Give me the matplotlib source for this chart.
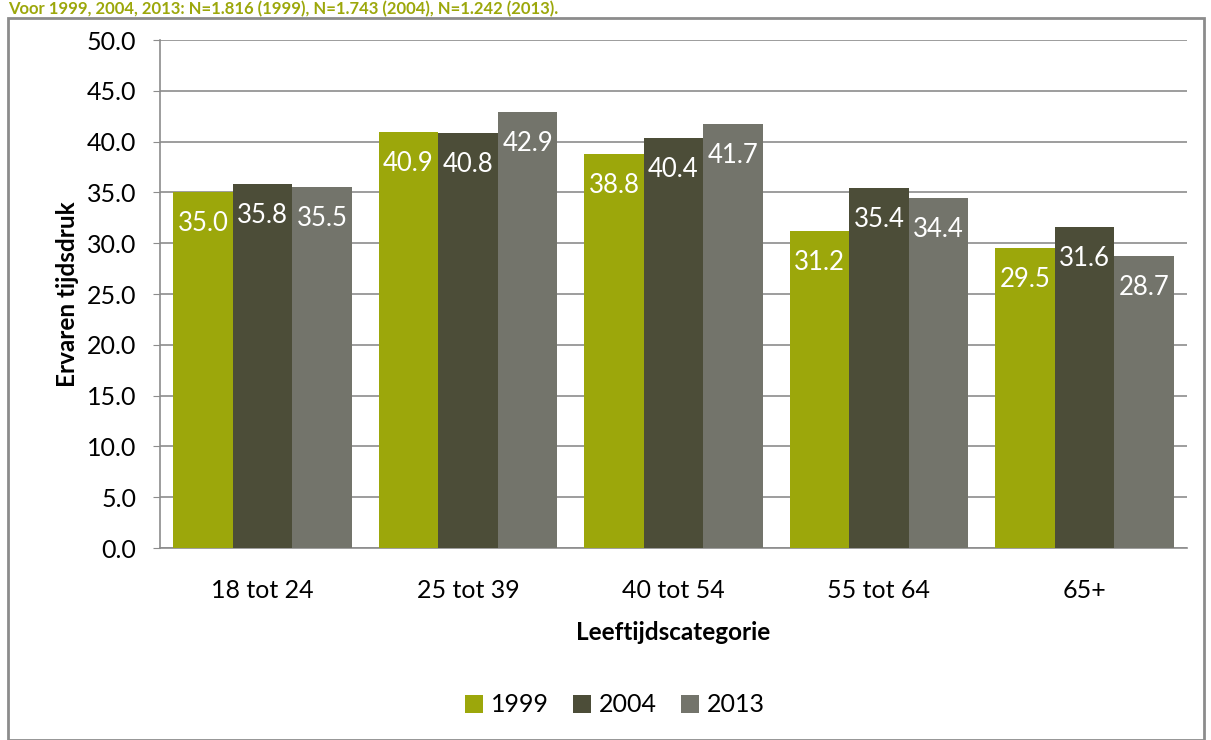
import matplotlib
matplotlib.use("Agg")
import matplotlib.pyplot as plt
import numpy as np
from matplotlib.patches import Rectangle

categories = ["18 tot 24", "25 tot 39", "40 tot 54", "55 tot 64", "65+"]
years = ["1999", "2004", "2013"]
v1999 = [35.0, 40.9, 38.8, 31.2, 29.5]
v2004 = [35.8, 40.8, 40.4, 35.4, 31.6]
v2013 = [35.5, 42.9, 41.7, 34.4, 28.7]
colors = ["#9CA70B", "#4C4D38", "#73746B"]

plt.rcParams['font.family'] = ['Lato', 'DejaVu Sans']

fig = plt.figure(figsize=(12.11, 7.40), dpi=100)
W, H = 1211, 740
ax = fig.add_axes([160 / W, 1 - 548 / H, (1187 - 160) / W, (548 - 40) / H])

# outer frame
fig.patches.append(Rectangle((8 / W, 0.0), (1204 - 8) / W, (740 - 18) / H,
                             transform=fig.transFigure, fill=False,
                             edgecolor="#8C8C8C", linewidth=2))
fig.text(8 / W, 1 - 9 / H, "Voor 1999, 2004, 2013: N=1.816 (1999), N=1.743 (2004), N=1.242 (2013).",
         color="#9CA70B", fontsize=12, fontweight="bold", ha="left", va="center")

x = np.arange(len(categories))
bw = 0.29
series = [v1999, v2004, v2013]
for i, (vals, c, yr) in enumerate(zip(series, colors, years)):
    pos = x + (i - 1) * bw
    ax.bar(pos, vals, width=bw, color=c, label=yr, zorder=3)
    for p, v in zip(pos, vals):
        ax.text(p, v - 3.1, f"{v:.1f}", ha="center", va="center",
                color="white", fontsize=18.5, zorder=4)

ax.set_xlim(-0.5, len(categories) - 0.5)
ax.set_ylim(0, 50)
ticks = np.arange(0, 50.1, 5)
ax.set_yticks(ticks)
ax.set_yticklabels([f"{t:.1f}" for t in ticks])
ax.set_xticks(x)
ax.set_xticklabels(categories)
ax.tick_params(axis="both", labelsize=18, colors="black")
ax.tick_params(axis="x", length=0, pad=22)
ax.tick_params(axis="y", length=5, color="#8C8C8C", direction="out", pad=12)
ax.yaxis.grid(True, color="#8C8C8C", linewidth=1.2, zorder=0)
ax.set_axisbelow(True)
for s in ["top", "right"]:
    ax.spines[s].set_visible(False)
for s in ["left", "bottom"]:
    ax.spines[s].set_color("#8C8C8C")
    ax.spines[s].set_linewidth(1.2)

ax.set_xlabel("Leeftijdscategorie", fontsize=17.5, fontweight="bold", labelpad=14)
ax.set_ylabel("Ervaren tijdsdruk", fontsize=17.5, fontweight="bold", labelpad=6)

fig.legend(loc="center", bbox_to_anchor=(615 / W, 1 - 705 / H), ncol=3,
           frameon=False, fontsize=18, handlelength=0.7, handleheight=0.7,
           columnspacing=1.0, handletextpad=0.3)

fig.savefig("out.png", dpi=100)
